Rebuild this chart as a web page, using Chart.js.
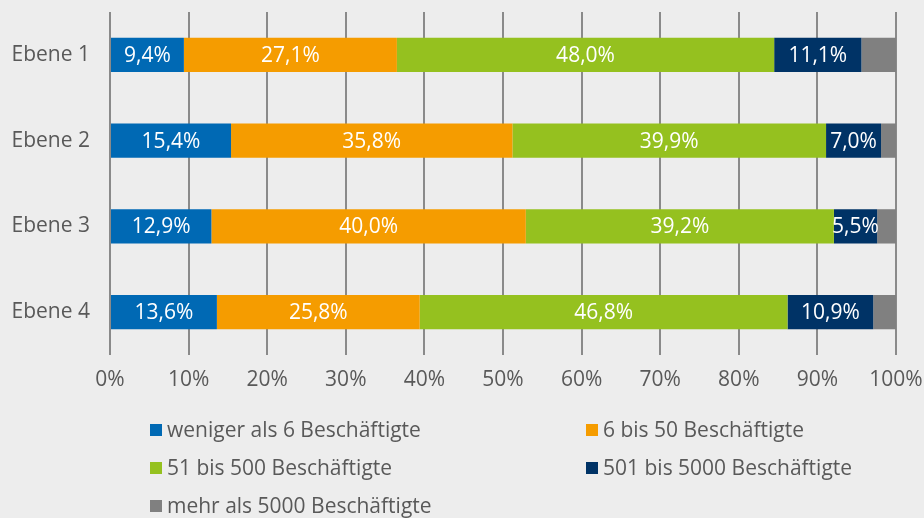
<!DOCTYPE html>
<html>
<head>
<meta charset="utf-8">
<script src="https://cdn.jsdelivr.net/npm/chart.js@4/dist/chart.umd.min.js"></script>
<style>
  html, body { margin: 0; padding: 0; background: #ededed; }
  #wrap { position: relative; width: 924px; height: 518px; overflow: hidden; }
</style>
</head>
<body>
<div id="wrap"><canvas id="grafico" width="924" height="518"></canvas></div>
<script>
// Kategorien und Werte (Anteile in %)
const ebenen = ['Ebene 1', 'Ebene 2', 'Ebene 3', 'Ebene 4'];
const serienNamen = ['weniger als 6 Beschäftigte', '6 bis 50 Beschäftigte', '51 bis 500 Beschäftigte', '501 bis 5000 Beschäftigte', 'mehr als 5000 Beschäftigte'];
const unter6 = [9.4, 15.4, 12.9, 13.6];
const bis50 = [27.1, 35.8, 40.0, 25.8];
const bis500 = [48.0, 39.9, 39.2, 46.8];
const bis5000 = [11.1, 7.0, 5.5, 10.9];
const ueber5000 = [4.4, 1.9, 2.4, 2.9];
const tickWerte = [0, 10, 20, 30, 40, 50, 60, 70, 80, 90, 100];
const farben = ['#0069b4', '#f59c00', '#95c11f', '#003366', '#808080'];
const zeigeLabel = [true, true, true, true, false];

const schrift = '"Open Sans", "DejaVu Sans", sans-serif';
const textFarbe = '#595959';

const reihen = [unter6, bis50, bis500, bis5000, ueber5000];

// Beschriftungen in den Balken
const balkenLabels = {
    id: 'balkenLabels',
    afterDatasetsDraw(chart) {
        const ctx = chart.ctx;
        ctx.save();
        ctx.font = '21px ' + schrift;
        ctx.fillStyle = '#ffffff';
        ctx.textAlign = 'center';
        ctx.textBaseline = 'middle';
        chart.data.datasets.forEach((ds, i) => {
            if (!zeigeLabel[i]) return;
            chart.getDatasetMeta(i).data.forEach((bar, j) => {
                const txt = ds.data[j].toFixed(1).replace('.', ',') + '%';
                const x = (bar.x + bar.base) / 2;
                ctx.fillText(txt, x, bar.y + 1);
            });
        });
        ctx.restore();
    }
};

// Legende in zwei Spalten
const legende = {
    id: 'legende',
    afterDraw(chart) {
        const ctx = chart.ctx;
        ctx.save();
        ctx.font = '21px ' + schrift;
        ctx.textBaseline = 'middle';
        ctx.textAlign = 'left';
        serienNamen.forEach((name, i) => {
            const spalte = i % 2;
            const zeile = Math.floor(i / 2);
            const x = spalte === 0 ? 150 : 586;
            const y = 430 + zeile * 38;
            ctx.fillStyle = farben[i];
            ctx.fillRect(x, y - 6, 12, 12);
            ctx.fillStyle = textFarbe;
            ctx.fillText(name, x + 17, y + 1);
        });
        ctx.restore();
    }
};

new Chart(document.getElementById('grafico'), {
    type: 'bar',
    data: {
        labels: ebenen,
        datasets: reihen.map((werte, i) => ({
            label: serienNamen[i],
            data: werte,
            backgroundColor: farben[i],
            borderWidth: 0,
            barPercentage: 0.4,
            categoryPercentage: 1
        }))
    },
    options: {
        indexAxis: 'y',
        responsive: false,
        animation: false,
        layout: { padding: { left: 0, right: 28, top: 12, bottom: 123 } },
        plugins: { legend: { display: false }, tooltip: { enabled: false } },
        scales: {
            x: {
                stacked: true,
                min: 0,
                max: 100,
                afterBuildTicks(scale) { scale.ticks = tickWerte.map(v => ({ value: v })); },
                afterFit(scale) {
                    scale.height = 40;
                    scale.paddingLeft = 0;
                    scale.paddingRight = 0;
                },
                grid: { color: '#8a8a8a', lineWidth: 2, drawTicks: false },
                border: { display: false },
                ticks: {
                    padding: 12,
                    color: textFarbe,
                    font: { family: schrift, size: 21 },
                    callback: v => v + '%'
                }
            },
            y: {
                stacked: true,
                afterFit(scale) {
                    scale.width = 110;
                    scale.paddingTop = 0;
                    scale.paddingBottom = 0;
                },
                grid: { display: false, drawTicks: false },
                border: { display: false },
                ticks: {
                    padding: 20,
                    color: textFarbe,
                    font: { family: schrift, size: 21 }
                }
            }
        }
    },
    plugins: [balkenLabels, legende]
});
</script>
</body>
</html>
